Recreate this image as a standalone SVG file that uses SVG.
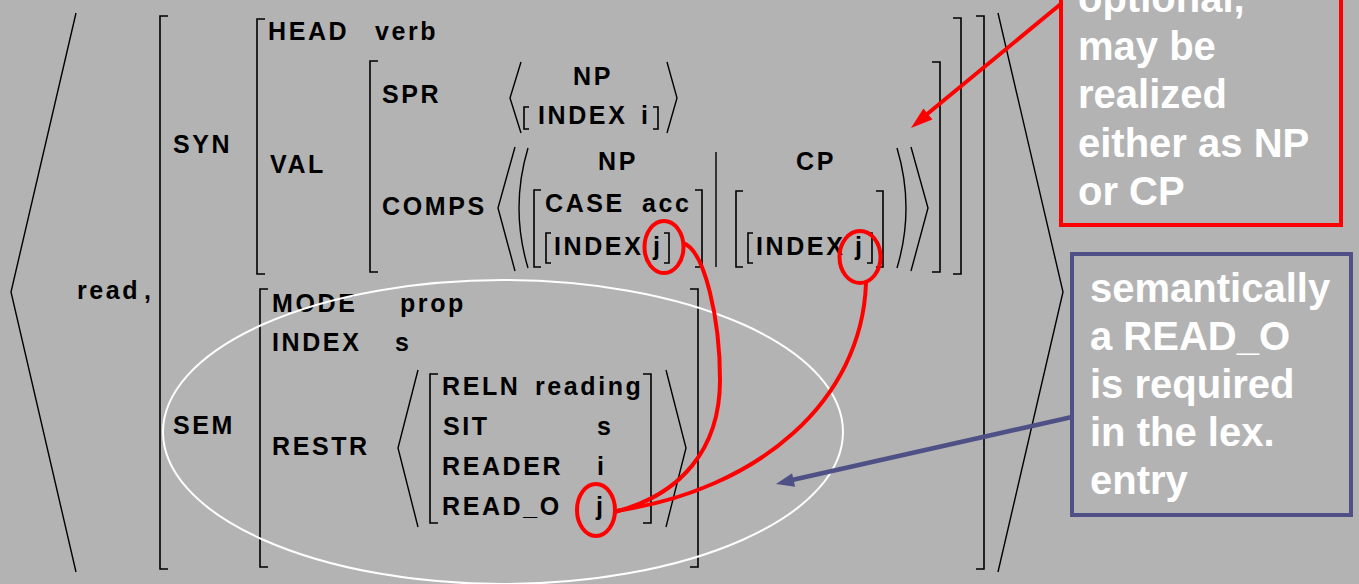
<svg xmlns="http://www.w3.org/2000/svg" width="1359" height="584" viewBox="0 0 1359 584">
<defs>
<style>
.t{font-family:"Liberation Sans",Arial,sans-serif;font-weight:bold;font-size:25px;letter-spacing:2.6px;fill:#000}
.c{text-anchor:middle}
.n{font-family:"Liberation Sans",Arial,sans-serif;font-weight:bold;font-size:40px;fill:#fff}
.br{fill:none;stroke:#000;stroke-width:1.6}
.ang{fill:none;stroke:#000;stroke-width:1.4}
.rc{fill:none;stroke:#f00;stroke-width:4}
</style>
</defs>
<rect x="0" y="0" width="1359" height="584" fill="#b3b3b3"/>

<g id="lexical-entry">
<path class="ang" d="M76,13 L11,292 L76,572"/>
<path class="ang" d="M998,13 L1063,292 L998,572"/>
<text class="t" x="77" y="299">read</text>
<text class="t" x="144" y="299">,</text>
</g>

<g id="avm-outer">
<path class="br" d="M168,16 H160 V569 H168"/>
<path class="br" d="M976,16 H984 V569 H976"/>
<text class="t" x="173" y="153">SYN</text>
<text class="t" x="173" y="434">SEM</text>
</g>

<g id="syn">
<path class="br" d="M265,19 H257 V274 H265"/>
<path class="br" d="M953,18 H961 V274 H953"/>
<text class="t" x="268" y="40">HEAD</text>
<text class="t" x="375" y="40">verb</text>
<text class="t" x="270" y="173">VAL</text>
</g>

<g id="val">
<path class="br" d="M378,61 H370 V272 H378"/>
<path class="br" d="M932,62 H940 V272 H932"/>
<text class="t" x="382" y="103">SPR</text>
<text class="t" x="382" y="215">COMPS</text>
</g>

<g id="spr">
<path class="ang" d="M521,62 L510,98 L521,133"/>
<path class="ang" d="M667,62 L677,98 L667,133"/>
<text class="t c" x="593" y="85">NP</text>
<path class="br" d="M529,107 H524 V129 H529"/>
<path class="br" d="M653,107 H658 V129 H653"/>
<text class="t" x="538" y="124">INDEX</text>
<text class="t" x="641" y="124">i</text>
</g>

<g id="comps">
<path class="ang" d="M515,147 L498,208 L515,271"/>
<path class="ang" d="M911,147 L928,208 L911,271"/>
<path class="ang" d="M528,148 Q510,208 528,268"/>
<path class="ang" d="M897,148 Q915,208 897,268"/>
<path class="ang" d="M716,152 V267"/>
<text class="t c" x="618" y="170">NP</text>
<text class="t c" x="816" y="170">CP</text>
</g>

<g id="comps-np">
<path class="br" d="M541,190 H534 V267 H541"/>
<path class="br" d="M695,190 H702 V267 H695"/>
<text class="t" x="545" y="212">CASE</text>
<text class="t" x="642" y="212">acc</text>
<path class="br" d="M551,233 H546 V263 H551"/>
<path class="br" d="M664,233 H669 V263 H664"/>
<text class="t" x="554" y="255">INDEX</text>
<text class="t" x="653" y="255">j</text>
</g>

<g id="comps-cp">
<path class="br" d="M743,191 H736 V267 H743"/>
<path class="br" d="M876,191 H883 V267 H876"/>
<path class="br" d="M753,233 H748 V263 H753"/>
<path class="br" d="M867,233 H872 V263 H867"/>
<text class="t" x="756" y="255">INDEX</text>
<text class="t" x="855" y="255">j</text>
</g>

<g id="sem">
<path class="br" d="M268,289 H260 V567 H268"/>
<path class="br" d="M690,289 H698 V567 H690"/>
<text class="t" x="272" y="312">MODE</text>
<text class="t" x="400" y="312">prop</text>
<text class="t" x="272" y="351">INDEX</text>
<text class="t" x="395" y="351">s</text>
<text class="t" x="272" y="455">RESTR</text>
</g>

<g id="restr">
<path class="ang" d="M418,370 L398,448 L418,527"/>
<path class="ang" d="M666,370 L686,448 L666,527"/>
<path class="br" d="M438,374 H430 V523 H438"/>
<path class="br" d="M643,374 H651 V523 H643"/>
<text class="t" x="442" y="395">RELN</text>
<text class="t" x="535" y="395">reading</text>
<text class="t" x="443" y="435">SIT</text>
<text class="t" x="597" y="435">s</text>
<text class="t" x="442" y="475">READER</text>
<text class="t" x="597" y="475">i</text>
<text class="t" x="442" y="515">READ_O</text>
<text class="t" x="596" y="515">j</text>
</g>

<g id="sem-highlight">
<ellipse cx="503" cy="432" rx="340" ry="152" fill="none" stroke="#fff" stroke-width="2"/>
</g>

<g id="note-optional">
<rect x="1061" y="-20" width="280" height="245" fill="none" stroke="#f00" stroke-width="4"/>
<text class="n" x="1078" y="12">optional,</text>
<text class="n" x="1078" y="60">may be</text>
<text class="n" x="1078" y="108">realized</text>
<text class="n" x="1078" y="157">either as NP</text>
<text class="n" x="1078" y="205">or CP</text>
</g>

<g id="note-semantic">
<rect x="1072" y="254" width="279" height="261" fill="none" stroke="#4f5186" stroke-width="4"/>
<text class="n" x="1090" y="302">semantically</text>
<text class="n" x="1090" y="350">a READ_O</text>
<text class="n" x="1090" y="398">is required</text>
<text class="n" x="1090" y="446">in the lex.</text>
<text class="n" x="1090" y="494">entry</text>
</g>

<g id="connectors">
<ellipse class="rc" cx="664" cy="247" rx="19.5" ry="26"/>
<ellipse class="rc" cx="860" cy="257" rx="20.5" ry="26"/>
<ellipse class="rc" cx="596" cy="510" rx="19" ry="26"/>
<path class="rc" d="M683,243 C705,250 720,320 720,380 C720,450 680,495 615,512"/>
<path class="rc" d="M866,283 C862,400 760,490 615,511"/>
<line x1="1062" y1="3" x2="926" y2="115" stroke="#f00" stroke-width="4"/>
<polygon points="911,128 932.4,119.4 923.4,108.6" fill="#f00"/>
<line x1="1072" y1="417" x2="792" y2="480" stroke="#4f5186" stroke-width="4.5"/>
<polygon points="776,484 795.1,486.8 792.1,473.2" fill="#4f5186"/>
</g>
</svg>
